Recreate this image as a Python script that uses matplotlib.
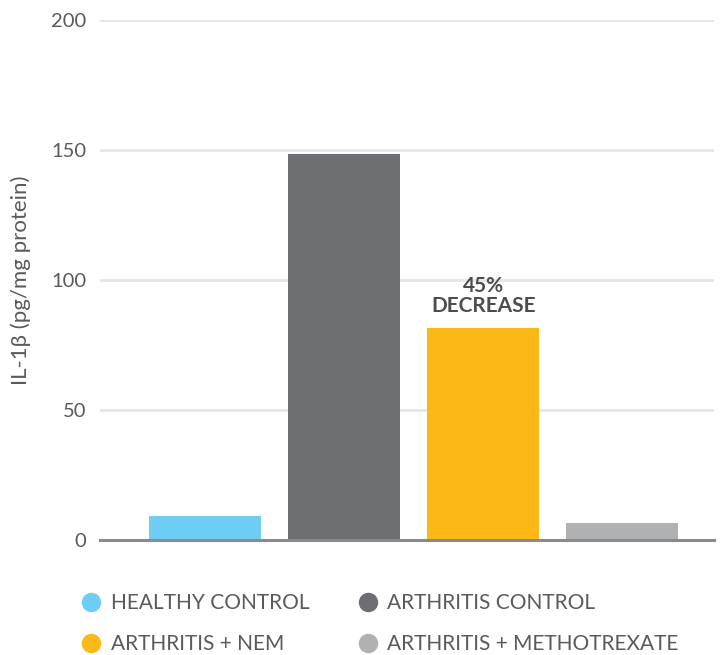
import matplotlib.pyplot as plt
from matplotlib.lines import Line2D

# data
groups = ['HEALTHY CONTROL', 'ARTHRITIS CONTROL', 'ARTHRITIS + NEM', 'ARTHRITIS + METHOTREXATE']
il1b = [9.2, 148.5, 81.5, 6.5]
colors = ['#6ECDF4', '#6D6E71', '#FBB816', '#AFB1B3']
yticks = [0, 50, 100, 150, 200]

plt.rcParams['font.family'] = ['Lato', 'DejaVu Sans']
txt = '#5A5A5C'

fig = plt.figure(figsize=(7.22, 6.55), dpi=100)
ax = fig.add_axes([0.1385, 0.1756, 0.8505, 0.7939])

x = range(len(groups))
ax.bar(x, il1b, width=0.806, color=colors, zorder=3)

ax.set_xlim(-0.755, 3.66)
ax.set_ylim(0, 200)
ax.set_yticks(yticks)
ax.set_xticks([])
ax.tick_params(axis='y', length=0, pad=10, labelsize=14.5, labelcolor=txt)
ax.grid(axis='y', color='#E6E6E6', lw=2, zorder=0)
for s in ['top', 'right', 'left']:
    ax.spines[s].set_visible(False)
ax.spines['bottom'].set_color('#8A8A8C')
ax.spines['bottom'].set_linewidth(2.2)
ax.spines['bottom'].set_zorder(4)

ax.set_ylabel('IL-1β (pg/mg protein)', fontsize=16, color=txt, labelpad=14)

# label above the NEM bar
ax.annotate('45%\nDECREASE', xy=(2, il1b[2]), xytext=(0, 9), textcoords='offset points',
            ha='center', va='bottom', fontsize=15, fontweight='bold', color='#4D4D4F',
            linespacing=1.0)

handles = [Line2D([], [], marker='o', ls='none', markersize=13, color=c) for c in colors]
order = [0, 2, 1, 3]
fig.legend([handles[i] for i in order], [groups[i] for i in order], ncol=2,
           loc='upper left', bbox_to_anchor=(0.1, 0.107), frameon=False,
           fontsize=15, labelcolor=txt, handlelength=1.0, handletextpad=0.45,
           columnspacing=2.3, labelspacing=1.0, borderaxespad=0)

fig.savefig('out.png', dpi=100)
